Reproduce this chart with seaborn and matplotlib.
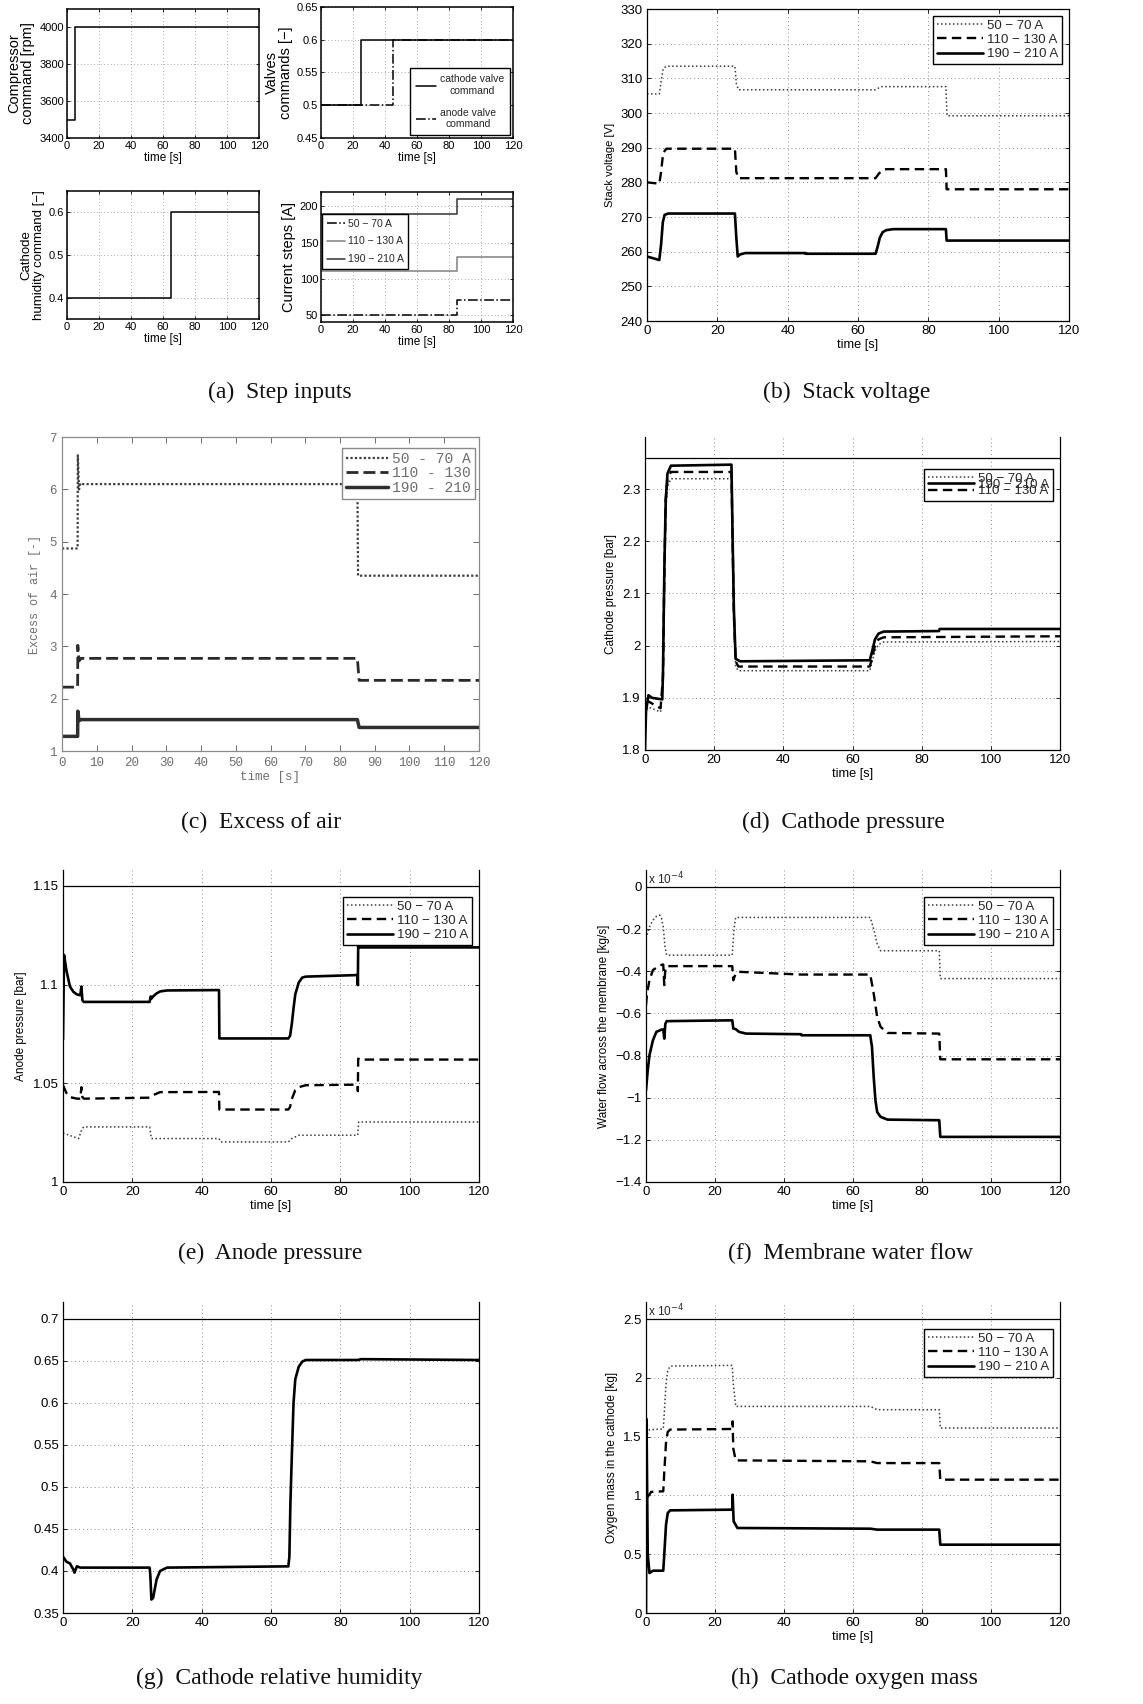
import matplotlib
matplotlib.use('Agg')
import seaborn as sns
from matplotlib import pyplot as plt
from matplotlib import font_manager
from matplotlib.ticker import FuncFormatter

# ---------------- data ----------------
# (a) step inputs
comp_t = [0, 5, 5, 120]
comp_v = [3500, 3500, 4000, 4000]
cath_valve_t = [0, 25, 25, 120]
cath_valve_v = [0.5, 0.5, 0.6, 0.6]
anode_valve_t = [0, 45, 45, 120]
anode_valve_v = [0.5, 0.5, 0.6, 0.6]
hum_cmd_t = [0, 65, 65, 120]
hum_cmd_v = [0.4, 0.4, 0.6, 0.6]
cur_t = [0, 85, 85, 120]
cur_low = [50, 50, 70, 70]
cur_mid = [110, 110, 130, 130]
cur_high = [190, 190, 210, 210]

# (b) stack voltage [V]
sv_low_t = [0, 3.5, 4.0, 4.6, 5.5, 25, 25.4, 26, 65, 66.5, 85, 85.3, 120]
sv_low = [305.5, 305.5, 309.0, 312.8, 313.5, 313.5, 308.5, 306.7, 306.7, 307.6, 307.6, 299.2, 299.2]
sv_mid_t = [0, 3.5, 4.0, 4.6, 5.5, 25, 25.4, 26, 65, 66, 67, 68, 85, 85.2, 120]
sv_mid = [280.0, 279.6, 283.0, 288.5, 289.7, 289.7, 283.0, 281.2, 281.2, 282.6, 283.5, 283.8, 283.8, 278.0, 278.0]
sv_high_t = [0, 3.5, 4.0, 4.5, 5.0, 6.0, 25, 25.4, 25.8, 26.5, 28, 45, 45.1, 65, 65.6, 66.2, 67, 68, 70, 85, 85.2, 120]
sv_high = [258.6, 257.6, 262.0, 268.5, 270.6, 271.0, 271.0, 264.0, 258.6, 259.2, 259.6, 259.6, 259.4, 259.4,
           261.5, 264.0, 265.6, 266.2, 266.5, 266.5, 263.2, 263.2]

# (c) excess of air [-]
air_low_t = [0, 4.5, 4.55, 4.9, 5.3, 6, 85, 85.2, 120]
air_low = [4.87, 4.87, 6.65, 6.0, 6.12, 6.1, 6.1, 4.35, 4.35]
air_mid_t = [0, 4.5, 4.55, 4.9, 5.5, 85, 85.5, 120]
air_mid = [2.22, 2.22, 3.02, 2.72, 2.77, 2.77, 2.35, 2.35]
air_high_t = [0, 4.5, 4.55, 4.9, 5.5, 85, 85.5, 120]
air_high = [1.28, 1.28, 1.76, 1.58, 1.6, 1.6, 1.45, 1.45]

# (d) cathode pressure [bar]
cp_t = [0, 0.3, 1, 4.5, 5.2, 5.6, 6.0, 6.5, 7.5, 25, 25.3, 25.7, 26.2, 27, 65, 65.7, 66.5, 67.5, 69, 120]
cp_low = [1.84, 1.875, 1.882, 1.873, 1.93, 2.12, 2.26, 2.305, 2.32, 2.32, 2.2, 2.05, 1.96, 1.952, 1.952,
          1.97, 1.99, 2.002, 2.007, 2.008]
cp_mid = [1.86, 1.89, 1.893, 1.88, 1.94, 2.14, 2.28, 2.32, 2.333, 2.333, 2.21, 2.06, 1.97, 1.96, 1.96,
          1.978, 2.0, 2.012, 2.016, 2.018]
cp_high_t = [0, 0.3, 1, 2, 5, 5.2, 5.6, 6.0, 6.5, 7.5, 25, 25.3, 25.7, 26.2, 27.5, 65, 65.7, 66.5, 67.5, 69,
             85, 85.2, 120]
cp_high = [1.80, 1.875, 1.905, 1.9, 1.897, 1.95, 2.15, 2.28, 2.33, 2.345, 2.347, 2.22, 2.07, 1.975, 1.97,
           1.972, 1.99, 2.012, 2.023, 2.027, 2.028, 2.032, 2.032]

# (e) anode pressure [bar]
ap_low_t = [0, 4.5, 5.5, 6, 25, 25.5, 45, 45.5, 65, 66, 68, 85, 85.3, 120]
ap_low = [1.0248, 1.022, 1.027, 1.0279, 1.0279, 1.022, 1.022, 1.0203, 1.0203, 1.022, 1.0237, 1.0237, 1.0304, 1.0304]
ap_mid_t = [0, 1, 2, 4, 5, 5.3, 5.6, 6, 25, 26, 28, 45, 45.1, 65, 65.5, 66, 67, 68, 70, 85, 85.05, 85.15, 85.5, 120]
ap_mid = [1.049, 1.045, 1.043, 1.0422, 1.0422, 1.048, 1.043, 1.0422, 1.0427, 1.044, 1.0455, 1.0456, 1.0367,
          1.0367, 1.038, 1.042, 1.0465, 1.048, 1.049, 1.0493, 1.046, 1.0625, 1.062, 1.062]
ap_high_t = [0, 0.3, 1, 2, 3, 4, 5, 5.3, 5.6, 6, 25, 25.3, 25.6, 26, 27, 28, 30, 45, 45.1, 65, 65.5, 66, 66.5,
             67, 68, 69, 70, 85, 85.05, 85.15, 85.5, 120]
ap_high = [1.072, 1.115, 1.107, 1.099, 1.0963, 1.095, 1.0946, 1.099, 1.092, 1.0912, 1.0912, 1.094, 1.093, 1.094,
           1.0955, 1.0965, 1.097, 1.0972, 1.0727, 1.0727, 1.074, 1.08, 1.088, 1.095, 1.101, 1.1035, 1.104,
           1.1048, 1.0997, 1.12, 1.1188, 1.1188]

# (f) water flow across the membrane [1e-4 kg/s]
wf_low_t = [0, 1, 2, 3, 4, 4.5, 5, 5.5, 6, 25, 25.5, 26, 65, 66, 67, 68, 85, 85.3, 120]
wf_low = [-0.245, -0.19, -0.158, -0.14, -0.134, -0.15, -0.19, -0.285, -0.324, -0.324, -0.2, -0.145, -0.145,
          -0.2, -0.27, -0.303, -0.303, -0.435, -0.435]
wf_mid_t = [0, 0.3, 1, 2, 4, 5, 5.3, 5.6, 6, 25, 25.3, 26, 27, 45, 65, 66, 67, 68, 70, 85, 85.3, 120]
wf_mid = [-0.56, -0.506, -0.443, -0.395, -0.372, -0.368, -0.466, -0.39, -0.376, -0.376, -0.443, -0.41, -0.403,
          -0.416, -0.416, -0.506, -0.617, -0.664, -0.693, -0.696, -0.818, -0.818]
wf_high_t = [0, 0.5, 1, 2, 3, 4.5, 5, 5.3, 5.6, 6, 25, 25.3, 26, 27, 29, 45, 45.1, 65, 65.5, 66, 66.5, 67, 68,
             70, 85, 85.3, 120]
wf_high = [-0.965, -0.87, -0.799, -0.728, -0.688, -0.677, -0.677, -0.72, -0.65, -0.637, -0.633, -0.672, -0.675,
           -0.688, -0.696, -0.699, -0.704, -0.704, -0.759, -0.902, -1.012, -1.068, -1.091, -1.104, -1.107,
           -1.186, -1.186]

# (g) cathode relative humidity [-]
rh_t = [0, 1, 2, 3, 3.3, 4, 5, 25, 25.2, 25.5, 26, 27, 28, 30, 65, 65.3, 65.6, 66, 66.5, 67, 68, 69, 70, 85, 86, 120]
rh = [0.417, 0.411, 0.409, 0.4015, 0.398, 0.4055, 0.404, 0.404, 0.394, 0.366, 0.368, 0.39, 0.4, 0.404, 0.4055,
      0.417, 0.481, 0.536, 0.6, 0.628, 0.643, 0.649, 0.651, 0.651, 0.652, 0.651]

# (h) oxygen mass in the cathode [1e-4 kg]
om_low_t = [0, 0.5, 1, 5, 5.3, 5.8, 6.3, 7, 25, 25.3, 26, 65, 67, 85, 85.3, 120]
om_low = [1.42, 1.53, 1.559, 1.565, 1.7, 1.95, 2.06, 2.1, 2.106, 1.95, 1.757, 1.757, 1.729, 1.729, 1.573, 1.573]
om_mid_t = [0, 0.3, 0.8, 1.5, 5, 5.3, 5.8, 6.3, 7, 25, 25.1, 25.3, 26, 65, 67, 85, 85.3, 120]
om_mid = [0.6, 0.98, 1.0, 1.03, 1.035, 1.2, 1.45, 1.54, 1.56, 1.565, 1.63, 1.4, 1.298, 1.29, 1.275, 1.275,
          1.134, 1.134]
om_high_t = [0, 0.15, 0.5, 1, 2, 5, 5.3, 5.8, 6.3, 7, 25, 25.1, 25.4, 26.5, 65, 67, 85, 85.3, 120]
om_high = [0.0, 1.65, 0.5, 0.34, 0.36, 0.36, 0.5, 0.75, 0.85, 0.873, 0.879, 1.006, 0.78, 0.723, 0.717, 0.709,
           0.709, 0.581, 0.581]

series_labels = ['50 \u2212 70 A', '110 \u2212 130 A', '190 \u2212 210 A']

# ---------------- style ----------------
sns.set_style('white')
plt.rcParams['font.family'] = ['Liberation Sans', 'DejaVu Sans']
plt.rcParams['axes.unicode_minus'] = True

available = {f.name for f in font_manager.fontManager.ttflist}
narrow = ['Liberation Sans Narrow', 'Liberation Sans'] if 'Liberation Sans Narrow' in available else ['Liberation Sans']

DOT = dict(color='#3a3a3a', linestyle=(0, (1, 1.6)), linewidth=1.1)
DASH = dict(color='black', linestyle=(0, (4, 2.3)), linewidth=1.7)
SOLID = dict(color='black', linestyle='-', linewidth=1.9)

W, H = 1143, 1704
fig = plt.figure(figsize=(W / 100, H / 100), dpi=100)
fig.patch.set_facecolor('white')


def box(l, t, r, b):
    return fig.add_axes([l / W, 1 - b / H, (r - l) / W, (b - t) / H])


def line(ax, t, v, label=None, **kw):
    sns.lineplot(x=t, y=v, ax=ax, estimator=None, sort=False, legend=False, label=label, **kw)
    return ax.lines[-1]


def g_fmt(v, pos):
    return f'{v:g}'.replace('-', '\u2212')


def matlab_axes(ax, ylim, yticks, ylabel='', xlabel='time [s]', top_line=None, fs=9.5, lfs=8.5):
    ax.set_xlim(0, 120)
    ax.set_ylim(*ylim)
    ax.set_xticks(range(0, 121, 20))
    ax.set_yticks(yticks)
    ax.xaxis.set_major_formatter(FuncFormatter(g_fmt))
    ax.yaxis.set_major_formatter(FuncFormatter(g_fmt))
    ax.grid(True, color='#8a8a8a', linestyle=(0, (1, 3)), linewidth=0.7)
    ax.tick_params(direction='in', length=3, width=0.6, labelsize=fs, pad=3, colors='black',
                   bottom=True, left=True, right=True, top=top_line is None)
    for s in ax.spines.values():
        s.set_color('black')
        s.set_linewidth(0.9)
    if top_line is not None:
        ax.spines['top'].set_visible(False)
        ax.axhline(top_line, color='black', linewidth=0.9)
    ax.set_xlabel(xlabel, fontsize=9.2, labelpad=1, color='black')
    ax.set_ylabel(ylabel, fontsize=lfs, labelpad=4, color='black')


def matlab_legend(ax, handles, labels, y_anchor, spacing=0.15, fs=9.5):
    leg = ax.legend(handles, labels, loc='upper right', bbox_to_anchor=(1, y_anchor), fontsize=fs,
                    frameon=True, fancybox=False, edgecolor='black', framealpha=1, handlelength=3.5,
                    handletextpad=0.3, borderpad=0.3, labelspacing=spacing, borderaxespad=0.5)
    leg.get_frame().set_linewidth(1.0)
    return leg


def small_axes(ax, ylim, yticks, ylabel, yfs=10.5):
    ax.set_xlim(0, 120)
    ax.set_ylim(*ylim)
    ax.set_xticks(range(0, 121, 20))
    ax.set_yticks(yticks)
    ax.yaxis.set_major_formatter(FuncFormatter(g_fmt))
    ax.grid(True, color='#8a8a8a', linestyle=(0, (1, 3)), linewidth=0.6)
    ax.tick_params(direction='in', length=2.5, width=0.6, labelsize=8, pad=2, colors='black',
                   bottom=True, left=True, right=True, top=True)
    for s in ax.spines.values():
        s.set_color('black')
        s.set_linewidth(1.1)
    plt.setp(ax.get_xticklabels() + ax.get_yticklabels(), family=narrow)
    ax.set_xlabel('time [s]', fontsize=8.5, labelpad=1, family=narrow, color='black')
    ax.set_ylabel(ylabel, fontsize=yfs, labelpad=3, color='black', linespacing=1.0)


def caption(x, y, s):
    fig.text(x / W, 1 - y / H, s, ha='center', va='center', family=['Liberation Serif', 'DejaVu Serif'],
             fontsize=17, color='#111111')


SMALL = dict(color='black', linewidth=1.1)

# ---------------- (a) step inputs ----------------
a1 = box(67, 9, 259, 138)
line(a1, comp_t, comp_v, **SMALL)
small_axes(a1, (3400, 4100), [3400, 3600, 3800, 4000], 'Compressor\ncommand [rpm]')

a2 = box(321, 7, 513, 138)
h1 = line(a2, cath_valve_t, cath_valve_v, label='cathode valve\ncommand', **SMALL)
h2 = line(a2, anode_valve_t, anode_valve_v, label='anode valve\ncommand', color='black', linewidth=1.1,
          linestyle='-.')
small_axes(a2, (0.45, 0.65), [0.45, 0.5, 0.55, 0.6, 0.65], 'Valves\ncommands [\u2212]')
leg = a2.legend([h1, h2], ['cathode valve\ncommand', 'anode valve\ncommand'], loc='lower right',
                frameon=True, fancybox=False, edgecolor='black', framealpha=1,
                handlelength=1.9, handletextpad=0.4, borderpad=0.6, labelspacing=1.1, borderaxespad=0.25,
                prop={'family': narrow, 'size': 7.5})
leg.get_frame().set_linewidth(1.0)
for txt in leg.get_texts():
    txt.set_multialignment('center')

a3 = box(67, 191, 259, 319)
line(a3, hum_cmd_t, hum_cmd_v, **SMALL)
small_axes(a3, (0.35, 0.65), [0.4, 0.5, 0.6], 'Cathode\nhumidity command [\u2212]', yfs=9.5)

a4 = box(321, 192, 513, 322)
c1 = line(a4, cur_t, cur_high, color='#333333', linewidth=1.1)
c2 = line(a4, cur_t, cur_mid, color='#808080', linewidth=1.1)
c3 = line(a4, cur_t, cur_low, color='black', linewidth=1.1, linestyle='-.')
small_axes(a4, (40, 220), [50, 100, 150, 200], 'Current steps [A]')
leg = a4.legend([c3, c2, c1], series_labels, loc='upper left', bbox_to_anchor=(0, 0.84),
                frameon=True, fancybox=False, edgecolor='black', framealpha=1, handlelength=1.8,
                handletextpad=0.2, borderpad=0.45, labelspacing=0.75, borderaxespad=0.1,
                prop={'family': narrow, 'size': 7.5})
leg.get_frame().set_linewidth(1.0)
caption(280, 392, '(a)  Step inputs')

# ---------------- (b) stack voltage ----------------
axb = box(647, 9, 1069, 321)
hb1 = line(axb, sv_low_t, sv_low, **DOT)
hb2 = line(axb, sv_mid_t, sv_mid, **DASH)
hb3 = line(axb, sv_high_t, sv_high, **SOLID)
matlab_axes(axb, (240, 330), range(240, 331, 10), ylabel='Stack voltage [V]', lfs=8)
matlab_legend(axb, [hb1, hb2, hb3], series_labels, 1.0)
caption(847, 392, '(b)  Stack voltage')

# ---------------- (c) excess of air ----------------
gray = '#6e6e6e'
mono = ['Liberation Mono', 'DejaVu Sans Mono']
axc = box(62, 437, 479, 751)
hc1 = line(axc, air_low_t, air_low, color='#3c3c3c', linestyle=(0, (1, 1)), linewidth=1.6)
hc2 = line(axc, air_mid_t, air_mid, color='#2a2a2a', linestyle=(0, (4.3, 1.8)), linewidth=2.0)
hc3 = line(axc, air_high_t, air_high, color='#2f2f2f', linestyle='-', linewidth=2.5)
axc.set_xlim(0, 120)
axc.set_ylim(1, 7)
axc.set_xticks(range(0, 121, 10))
axc.set_yticks(range(1, 8))
axc.tick_params(direction='in', length=4, width=0.7, labelsize=9, pad=4, colors=gray,
                bottom=True, left=True, right=True, top=True)
plt.setp(axc.get_xticklabels() + axc.get_yticklabels(), family=mono)
for s in axc.spines.values():
    s.set_color('#8a8a8a')
    s.set_linewidth(0.9)
axc.set_xlabel('time [s]', family=mono, color=gray, fontsize=9, labelpad=2)
axc.set_ylabel('Excess of air [-]', family=mono, color=gray, fontsize=8.5, labelpad=6)
leg = axc.legend([hc1, hc2, hc3], ['50 - 70 A', '110 - 130', '190 - 210'], loc='upper right',
                 bbox_to_anchor=(0.99, 0.965), frameon=True, fancybox=False, edgecolor='#8a8a8a',
                 framealpha=1, handlelength=2.9, handletextpad=0.3, borderpad=0.25, labelspacing=0.05,
                 borderaxespad=0.0, prop={'family': mono, 'size': 10.5})
for txt in leg.get_texts():
    txt.set_color(gray)
caption(261, 822, '(c)  Excess of air')

# ---------------- (d) cathode pressure ----------------
axd = box(645, 437, 1060, 750)
hd1 = line(axd, cp_t, cp_low, **DOT)
hd2 = line(axd, cp_t, cp_mid, **DASH)
hd3 = line(axd, cp_high_t, cp_high, **SOLID)
matlab_axes(axd, (1.8, 2.4), [1.8, 1.9, 2.0, 2.1, 2.2, 2.3], ylabel='Cathode pressure [bar]', top_line=2.36)
# the reference legend has its three rows squeezed together
matlab_legend(axd, [hd1, hd3, hd2], [series_labels[0], series_labels[2], series_labels[1]],
              (750 - 462) / 313, spacing=-0.45)
caption(843, 822, '(d)  Cathode pressure')

# ---------------- (e) anode pressure ----------------
axe = box(63, 870, 479, 1182)
he1 = line(axe, ap_low_t, ap_low, **DOT)
he2 = line(axe, ap_mid_t, ap_mid, **DASH)
he3 = line(axe, ap_high_t, ap_high, **SOLID)
matlab_axes(axe, (1.0, 1.158), [1.0, 1.05, 1.1, 1.15], ylabel='Anode pressure [bar]', top_line=1.15)
matlab_legend(axe, [he1, he2, he3], series_labels, (1182 - 890) / 312)
caption(270, 1253, '(e)  Anode pressure')

# ---------------- (f) membrane water flow ----------------
axf = box(646, 870, 1060, 1182)
hf1 = line(axf, wf_low_t, wf_low, **DOT)
hf2 = line(axf, wf_mid_t, wf_mid, **DASH)
hf3 = line(axf, wf_high_t, wf_high, **SOLID)
matlab_axes(axf, (-1.4, 0.08), [-1.4, -1.2, -1.0, -0.8, -0.6, -0.4, -0.2, 0.0],
            ylabel='Water flow across the membrane [kg/s]', top_line=0.0)
axf.text(0.004, 0.997, r'x 10$^{-4}$', transform=axf.transAxes, ha='left', va='top', fontsize=8.5)
matlab_legend(axf, [hf1, hf2, hf3], series_labels, (1182 - 890) / 312)
caption(850, 1253, '(f)  Membrane water flow')

# ---------------- (g) cathode relative humidity ----------------
axg = box(63, 1302, 479, 1613)
line(axg, rh_t, rh, **SOLID)
matlab_axes(axg, (0.35, 0.72), [0.35, 0.4, 0.45, 0.5, 0.55, 0.6, 0.65, 0.7], xlabel='', top_line=0.7)
caption(279, 1678, '(g)  Cathode relative humidity')

# ---------------- (h) cathode oxygen mass ----------------
axh = box(646, 1302, 1060, 1613)
hh1 = line(axh, om_low_t, om_low, **DOT)
hh2 = line(axh, om_mid_t, om_mid, **DASH)
hh3 = line(axh, om_high_t, om_high, **SOLID)
matlab_axes(axh, (0, 2.645), [0, 0.5, 1, 1.5, 2, 2.5], ylabel='Oxygen mass in the cathode [kg]', top_line=2.5)
axh.text(0.004, 0.997, r'x 10$^{-4}$', transform=axh.transAxes, ha='left', va='top', fontsize=8.5)
matlab_legend(axh, [hh1, hh2, hh3], series_labels, (1613 - 1322) / 311)
caption(854, 1678, '(h)  Cathode oxygen mass')

fig.savefig('out.png', dpi=100, facecolor='white')
